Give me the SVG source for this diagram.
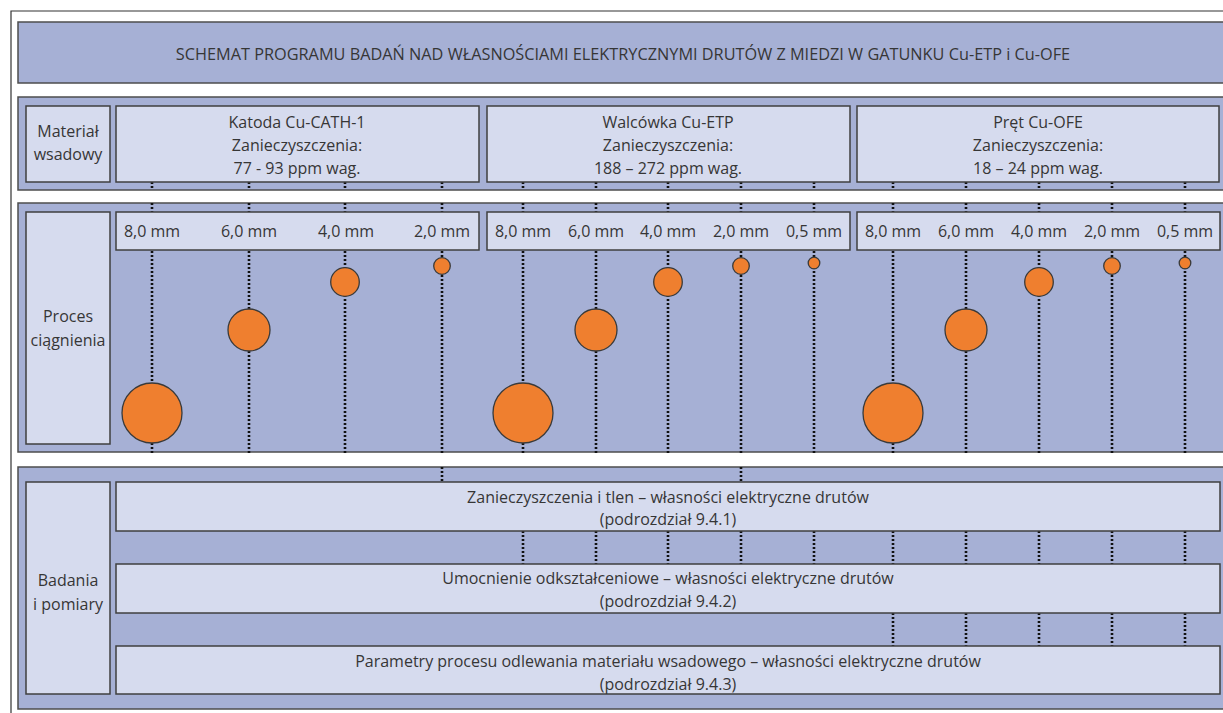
<svg xmlns="http://www.w3.org/2000/svg" width="1223" height="713" viewBox="0 0 1223 713">
  <defs>
    <style>
      text { font-family: "Open Sans", "Noto Sans", "DejaVu Sans", sans-serif; font-size: 16px; fill: #363636; text-anchor: middle; }
      .band { fill: #a6b0d5; stroke: #4d4d4d; stroke-width: 1.5; }
      .box { fill: #d6dbee; stroke: #3f3f3f; stroke-width: 1.5; }
      .wire { fill: #ef7f2f; stroke: #3a3a3a; stroke-width: 1.3; }
      .dot { stroke: #111; stroke-width: 2.6; stroke-dasharray: 2 2; fill: none; }
    </style>
  </defs>
  <rect width="1223" height="713" fill="#fff"/>
  <!-- outer frame -->
  <path d="M11 713 V11 H1223" fill="none" stroke="#333" stroke-width="1.2"/>

  <!-- background bands -->
  <g id="bands">
    <rect class="band" x="18" y="22" width="1210" height="61"/>
    <rect class="band" x="18" y="97" width="1210" height="93"/>
    <rect class="band" x="18" y="203" width="1210" height="249"/>
    <rect class="band" x="18" y="467" width="1210" height="242"/>
  </g>

  <!-- dotted connectors -->
  <g id="connectors" class="dot">
    <!-- under the charge-material boxes -->
    <path d="M152 182V190M249 182V190M345 182V190M442 182V190M523 182V190M596 182V190M668 182V190M741 182V190M814 182V190M893 182V190M966 182V190M1039 182V190M1112 182V190M1185 182V190"/>
    <!-- through the drawing band -->
    <path d="M152 203V453M249 203V453M345 203V453M442 203V453M523 203V453M596 203V453M668 203V453M741 203V453M814 203V453M893 203V453M966 203V453M1039 203V453M1112 203V453M1185 203V453"/>
    <!-- into the test boxes -->
    <path d="M442 467V482M741 467V482"/>
    <path d="M523 531V564M596 531V564M668 531V564M741 531V564M814 531V564M893 531V564M966 531V564M1039 531V564M1112 531V564M1185 531V564"/>
    <path d="M893 613V646M966 613V646M1039 613V646M1112 613V646M1185 613V646"/>
  </g>

  <g id="title">
    <text x="623" y="60" style="font-size:16.3px">SCHEMAT PROGRAMU BADAŃ NAD WŁASNOŚCIAMI ELEKTRYCZNYMI DRUTÓW Z MIEDZI W GATUNKU Cu-ETP i Cu-OFE</text>
  </g>

  <!-- row 1: charge material -->
  <g id="label-material">
    <rect class="box" x="26" y="106" width="84" height="76"/>
    <text x="68" y="137">Materiał</text>
    <text x="68" y="160">wsadowy</text>
  </g>
  <g id="material-cath">
    <rect class="box" x="116" y="106" width="363" height="76"/>
    <text x="297" y="128">Katoda Cu-CATH-1</text>
    <text x="297" y="151">Zanieczyszczenia:</text>
    <text x="297" y="174">77 - 93 ppm wag.</text>
  </g>
  <g id="material-etp">
    <rect class="box" x="487" y="106" width="363" height="76"/>
    <text x="668" y="128">Walcówka Cu-ETP</text>
    <text x="668" y="151">Zanieczyszczenia:</text>
    <text x="668" y="174">188 – 272 ppm wag.</text>
  </g>
  <g id="material-ofe">
    <rect class="box" x="857" y="106" width="362" height="76"/>
    <text x="1038" y="128">Pręt Cu-OFE</text>
    <text x="1038" y="151">Zanieczyszczenia:</text>
    <text x="1038" y="174">18 – 24 ppm wag.</text>
  </g>

  <!-- row 2: drawing process -->
  <g id="label-drawing">
    <rect class="box" x="26" y="212" width="84" height="232"/>
    <text x="68" y="322">Proces</text>
    <text x="68" y="346">ciągnienia</text>
  </g>
  <g id="sizes-cath">
    <rect class="box" x="116" y="212" width="363" height="38"/>
    <text x="152" y="237">8,0 mm</text>
    <text x="249" y="237">6,0 mm</text>
    <text x="346" y="237">4,0 mm</text>
    <text x="442" y="237">2,0 mm</text>
  </g>
  <g id="sizes-etp">
    <rect class="box" x="487" y="212" width="363" height="38"/>
    <text x="523" y="237">8,0 mm</text>
    <text x="596" y="237">6,0 mm</text>
    <text x="668" y="237">4,0 mm</text>
    <text x="741" y="237">2,0 mm</text>
    <text x="814" y="237">0,5 mm</text>
  </g>
  <g id="sizes-ofe">
    <rect class="box" x="857" y="212" width="363" height="38"/>
    <text x="893" y="237">8,0 mm</text>
    <text x="966" y="237">6,0 mm</text>
    <text x="1039" y="237">4,0 mm</text>
    <text x="1112" y="237">2,0 mm</text>
    <text x="1185" y="237">0,5 mm</text>
  </g>
  <g id="wires-cath">
    <circle class="wire" cx="152" cy="413" r="30"/>
    <circle class="wire" cx="249" cy="330" r="21"/>
    <circle class="wire" cx="345" cy="282" r="14.3"/>
    <circle class="wire" cx="442" cy="266" r="8.3"/>
  </g>
  <g id="wires-etp">
    <circle class="wire" cx="523" cy="413" r="30"/>
    <circle class="wire" cx="596" cy="330" r="21"/>
    <circle class="wire" cx="668" cy="282" r="14.3"/>
    <circle class="wire" cx="741" cy="266" r="8.3"/>
    <circle class="wire" cx="814" cy="263" r="5.8"/>
  </g>
  <g id="wires-ofe">
    <circle class="wire" cx="893" cy="413" r="30"/>
    <circle class="wire" cx="966" cy="330" r="21"/>
    <circle class="wire" cx="1039" cy="282" r="14.3"/>
    <circle class="wire" cx="1112" cy="266" r="8.3"/>
    <circle class="wire" cx="1185" cy="263" r="5.8"/>
  </g>

  <!-- row 3: tests and measurements -->
  <g id="label-tests">
    <rect class="box" x="26" y="482" width="84" height="212"/>
    <text x="68" y="586">Badania</text>
    <text x="68" y="610">i pomiary</text>
  </g>
  <g id="test-impurities">
    <rect class="box" x="116" y="482" width="1104" height="49"/>
    <text x="668" y="503">Zanieczyszczenia i tlen – własności elektryczne drutów</text>
    <text x="668" y="525">(podrozdział 9.4.1)</text>
  </g>
  <g id="test-strain">
    <rect class="box" x="116" y="564" width="1104" height="49"/>
    <text x="668" y="584">Umocnienie odkształceniowe – własności elektryczne drutów</text>
    <text x="668" y="607">(podrozdział 9.4.2)</text>
  </g>
  <g id="test-casting">
    <rect class="box" x="116" y="646" width="1104" height="48"/>
    <text x="668" y="667">Parametry procesu odlewania materiału wsadowego – własności elektryczne drutów</text>
    <text x="668" y="690">(podrozdział 9.4.3)</text>
  </g>
</svg>
